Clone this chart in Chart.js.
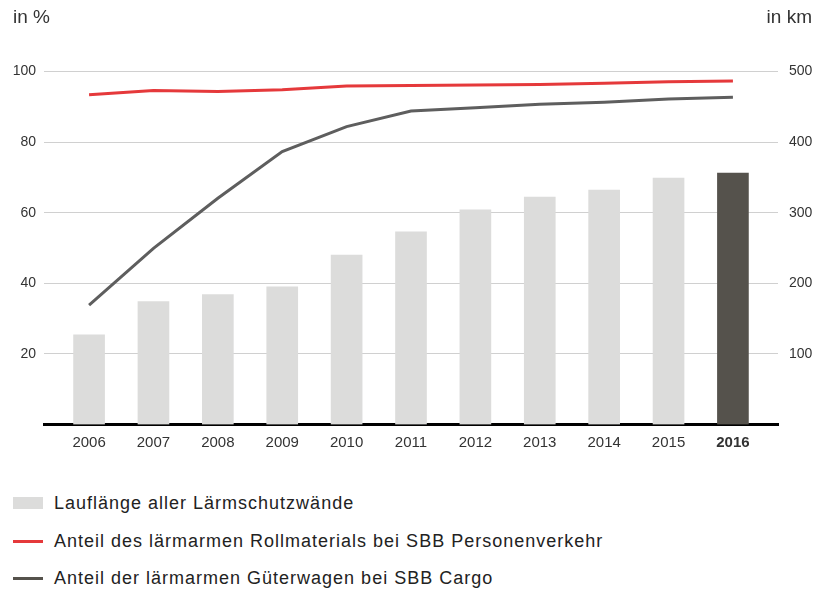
<!DOCTYPE html>
<html>
<head>
<meta charset="utf-8">
<script src="https://cdn.jsdelivr.net/npm/chart.js@4/dist/chart.umd.min.js"></script>
<style>
  html, body { margin: 0; padding: 0; background: #fff; }
  #wrap { position: relative; width: 818px; height: 594px; font-family: "Liberation Sans", Arial, sans-serif; }
  #box { position: absolute; left: 0; top: 0; width: 818px; height: 470px; }
  .row { position: absolute; left: 13px; height: 20px; display: flex; align-items: center; font-size: 18px; letter-spacing: 1px; color: #222; line-height: 20px; white-space: nowrap; }
  .sw { width: 30px; margin-right: 11px; }
</style>
</head>
<body>
<div id="wrap">
  <div id="box"><canvas id="c"></canvas></div>
  <div id="legend"></div>
</div>
<script>
const years = [2006, 2007, 2008, 2009, 2010, 2011, 2012, 2013, 2014, 2015, 2016];
const wallLengthKm = [127, 174, 184, 195, 240, 273, 304, 322, 332, 349, 356];
const passengerShare = [93.4, 94.6, 94.3, 94.8, 95.9, 96.0, 96.2, 96.3, 96.7, 97.1, 97.3];
const cargoShare = [33.8, 49.9, 64.1, 77.3, 84.4, 88.8, 89.7, 90.7, 91.3, 92.2, 92.7];
const leftTicks = [20, 40, 60, 80, 100];
const rightTicks = [100, 200, 300, 400, 500];
const seriesNames = [
  "Lauflänge aller Lärmschutzwände",
  "Anteil des lärmarmen Rollmaterials bei SBB Personenverkehr",
  "Anteil der lärmarmen Güterwagen bei SBB Cargo"
];
const leftTitle = "in %";
const rightTitle = "in km";

const barLight = "#dcdcdb";
const barDark = "#55524c";
const red = "#e5393b";
const grayLine = "#5e5e5e";
const tickColor = "#333";
const fontFamily = "'Liberation Sans', Arial, sans-serif";

const toPts = arr => arr.map((v, i) => ({ x: years[i], y: v }));

const titlePlugin = {
  id: "axisTitles",
  afterDraw(chart) {
    const ctx = chart.ctx;
    ctx.save();
    ctx.font = "19px " + fontFamily;
    ctx.fillStyle = tickColor;
    ctx.textBaseline = "alphabetic";
    ctx.textAlign = "left";
    ctx.fillText(leftTitle, 13, 23);
    ctx.textAlign = "right";
    ctx.fillText(rightTitle, 812, 23);
    ctx.restore();
  }
};

new Chart(document.getElementById("c"), {
  data: {
    datasets: [
      {
        type: "line", label: seriesNames[1], data: toPts(passengerShare), yAxisID: "yL",
        borderColor: red, borderWidth: 3, pointRadius: 0, tension: 0, order: 1
      },
      {
        type: "line", label: seriesNames[2], data: toPts(cargoShare), yAxisID: "yL",
        borderColor: grayLine, borderWidth: 3, pointRadius: 0, tension: 0, order: 2
      },
      {
        type: "bar", label: seriesNames[0], data: toPts(wallLengthKm), yAxisID: "yR",
        backgroundColor: years.map((y, i) => i === years.length - 1 ? barDark : barLight),
        barThickness: 31, order: 3
      }
    ]
  },
  options: {
    responsive: true,
    maintainAspectRatio: false,
    animation: false,
    layout: { padding: { top: 71.5, left: 0, right: 0, bottom: 0 } },
    plugins: { legend: { display: false }, tooltip: { enabled: false } },
    scales: {
      x: {
        type: "linear", min: 2005.3, max: 2016.7, offset: false,
        afterBuildTicks: s => { s.ticks = years.map(v => ({ value: v })); },
        afterFit: s => { s.height = 45.5; },
        grid: { display: false, drawTicks: false, offset: false },
        border: { display: true, color: "#000", width: 3 },
        ticks: {
          padding: 9, color: tickColor,
          callback: v => String(v),
          font: ctx => ({ family: fontFamily, size: 15, weight: ctx.tick && ctx.tick.value === 2016 ? "bold" : "normal" }),
          maxRotation: 0, autoSkip: false
        }
      },
      yL: {
        type: "linear", position: "left", min: 0, max: 100,
        afterBuildTicks: s => { s.ticks = [0].concat(leftTicks).map(v => ({ value: v })); },
        afterFit: s => { s.width = 44; },
        grid: { color: "#d0d0d0", lineWidth: 1, drawTicks: false },
        border: { display: false },
        ticks: { padding: 8, color: tickColor, font: { family: fontFamily, size: 14 }, callback: v => v === 0 ? "" : String(v) }
      },
      yR: {
        type: "linear", position: "right", min: 0, max: 500,
        afterBuildTicks: s => { s.ticks = [0].concat(rightTicks).map(v => ({ value: v })); },
        afterFit: s => { s.width = 40; },
        grid: { display: false, drawTicks: false },
        border: { display: false },
        ticks: { padding: 11, color: tickColor, font: { family: fontFamily, size: 14 }, callback: v => v === 0 ? "" : String(v) }
      }
    }
  },
  plugins: [titlePlugin]
});

// HTML legend
const legend = document.getElementById("legend");
const swatches = [
  { h: 12, c: barLight },
  { h: 3, c: red },
  { h: 3, c: barDark }
];
const rowTops = [493, 531, 568];
seriesNames.forEach((name, i) => {
  const row = document.createElement("div");
  row.className = "row";
  row.style.top = rowTops[i] + "px";
  const sw = document.createElement("span");
  sw.className = "sw";
  sw.style.height = swatches[i].h + "px";
  sw.style.background = swatches[i].c;
  const t = document.createElement("span");
  t.textContent = name;
  row.appendChild(sw);
  row.appendChild(t);
  legend.appendChild(row);
});
</script>
</body>
</html>
